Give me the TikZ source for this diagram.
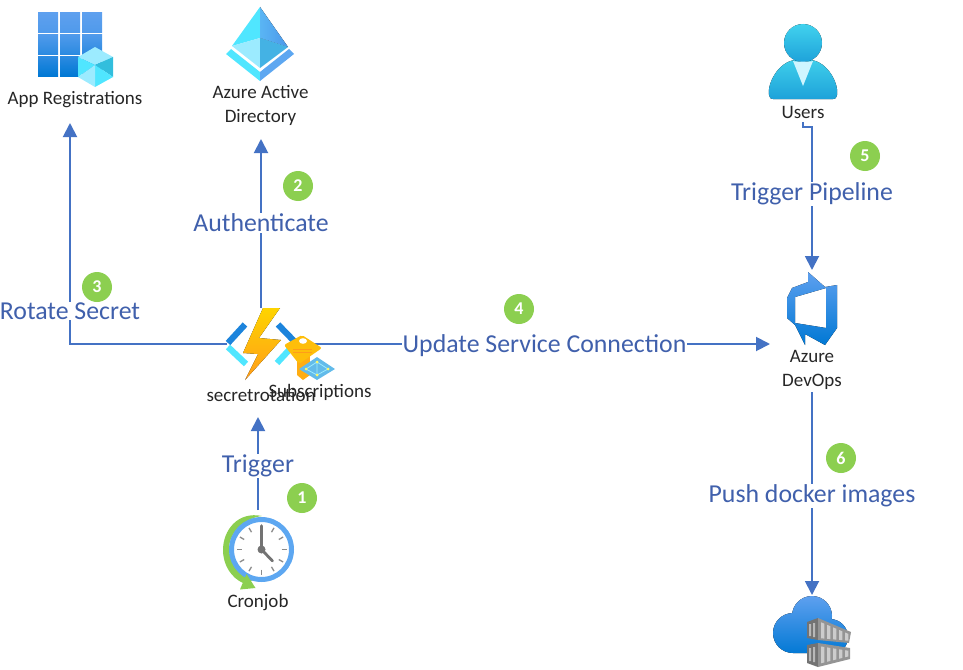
\documentclass[tikz,border=0pt]{standalone}
\usepackage{fontspec}
\setmainfont{Carlito}
\usetikzlibrary{arrows.meta}
\definecolor{lineblue}{HTML}{4472C4}
\definecolor{labelblue}{HTML}{4060AC}
\definecolor{badgegreen}{HTML}{8CCF50}
\definecolor{azlight}{HTML}{5EA0EF}
\definecolor{azdark}{HTML}{0078D4}
\definecolor{cyanA}{HTML}{50E6FF}
\definecolor{cyanB}{HTML}{9CEBFF}
\definecolor{cyanC}{HTML}{32BEDD}
\definecolor{boltA}{HTML}{FED400}
\definecolor{boltB}{HTML}{FF9C1A}
\tikzset{
  x=1pt,y=-1pt,
  iconbox/.style={inner sep=0pt,outer sep=0pt,minimum width=#1},
  conn/.style={draw=lineblue,line width=1.9pt,-{Triangle[length=14pt,width=14pt]}},
  connlabel/.style={fill=white,text=labelblue,font=\fontsize{25.8}{28}\selectfont,inner sep=0.5pt},
  iconlabel/.style={text=black!85,font=\fontsize{19}{24}\selectfont,inner sep=0pt,align=center},
  badge/.style={circle,fill=badgegreen,text=white,font=\fontsize{18}{18}\selectfont\bfseries,minimum size=30pt,inner sep=0pt},
  azfill/.style={top color=azlight,bottom color=azdark,draw=none},
}
\begin{document}
\begin{tikzpicture}
\useasboundingbox (0,0) rectangle (963,669);
% logical extents of the icons, used as connector ends
\node[iconbox=140pt,minimum height=123pt] (appr) at (70,61.5) {};
\node[iconbox=70pt,minimum height=139pt] (aad) at (261,69.5) {};
\node[iconbox=68pt,minimum height=72pt] (func) at (261,344) {};
\node[iconbox=68pt,minimum height=98pt] (users) at (803,73) {};
\node[iconbox=84pt,minimum height=122pt] (ado) at (812,331) {};
\node[iconbox=84pt,minimum height=74pt] (acr) at (812,632) {};
\node[iconbox=70pt,minimum height=102pt] (cron) at (258,561) {};
\node[iconbox=110pt,minimum height=48pt] (funcname) at (261,393) {};

% connectors
\draw[conn] (func.west) -| (appr.south);
\draw[conn] (func.north) -- (aad.south);
\draw[conn] (func.east) -- (func.east -| ado.west);
\draw[conn] (users.south) -- ++(0,5) -| (ado.north);
\draw[conn] (ado.south) -- (acr.north);
\draw[conn] (cron.north) -- (cron.north |- funcname.south);

% connector labels
\node[connlabel] (l3) at (70,311) {Rotate Secret};
\node[connlabel] (l2) at (261,223) {Authenticate};
\node[connlabel] (l4) at (544.5,346) {Update Service Connection};
\node[connlabel] (l5) at (812,194) {Trigger Pipeline};
\node[connlabel] (l1) at (258,466) {Trigger};
\node[connlabel] (l6) at (812,496) {Push docker images};

% badges
\node[badge] (b1) at (302,498) {1};
\node[badge] (b2) at (298,186) {2};
\node[badge] (b3) at (97,287) {3};
\node[badge] (b4) at (519,309) {4};
\node[badge] (b5) at (865,156) {5};
\node[badge] (b6) at (841,458) {6};

% App Registrations icon
\foreach \c in {0,1,2}{
  \fill[top color=azlight,bottom color=azlight!85!azdark] (38+\c*22,12.5) rectangle ++(20,20);
  \fill[top color=azlight!85!azdark,bottom color=azlight!45!azdark] (38+\c*22,35) rectangle ++(20,19.5);
  \fill[top color=azlight!45!azdark,bottom color=azdark] (38+\c*22,57) rectangle ++(20,19);
}
\fill[cyanB] (95,47) -- (113,57) -- (95,65) -- (78,57) -- cycle;
\fill[cyanA] (78,57) -- (95,65) -- (78,77) -- cycle;
\fill[cyanC] (113,57) -- (95,65) -- (113,77) -- cycle;
\fill[cyanA] (95,65) -- (113,77) -- (95,87) -- cycle;
\fill[cyanB] (95,65) -- (78,77) -- (95,87) -- cycle;
\node[iconlabel] (apprname) at (75,99.5) {App Registrations};

% Azure AD icon
\fill[cyanA] (260,7) -- (232,46) -- (260,38) -- cycle;
\fill[left color=cyanA!30!azlight,right color=azlight!80!azdark] (260,7) -- (288,47) -- (260,38) -- cycle;
\fill[cyanB] (232,46) -- (260,38) -- (260,68) -- cycle;
\fill[cyanC!60!azlight] (288,47) -- (260,38) -- (260,68) -- cycle;
\fill[cyanA] (226,54) -- (231,49) -- (260,72) -- (260,81) -- cycle;
\fill[azlight!90!cyanA] (294,54) -- (289,49) -- (260,72) -- (260,81) -- cycle;
\node[iconlabel] (aadname) at (260.5,105.5) {Azure Active\\Directory};

% Function icon
\draw[azdark!70!azlight,line width=6.2pt] (245,324.5) -- (228,343);
\draw[cyanA,line width=6.2pt] (228,347) -- (246,364);
\draw[azdark!70!azlight,line width=6.2pt] (278,324.5) -- (294,341);
\draw[cyanA,line width=6.2pt] (277,363) -- (290,349);
\fill[top color=boltA,bottom color=boltB] (263,308) -- (280,308) -- (259,338) -- (281,340) -- (245,380) -- (258,354) -- (243,353) -- cycle;

% Subscriptions icon
\fill[boltB!70!boltA] (297,352) rectangle (310,375);
\fill[boltB!70!boltA] (297,375) -- (303,380) -- (310,375) -- cycle;
\fill[boltA!60!boltB,rounded corners=2pt] (284,345) -- (302,335) -- (322,348) -- (299,364) -- cycle;
\fill[white] (303,341) ellipse (4pt and 2.8pt);
\draw[boltB,line width=0.9pt] (293,349) -- (312,349) (293,352) -- (312,352);
\fill[cyanC!50!azlight!85!white] (299,369) -- (317,357) -- (335,369) -- (317,380) -- cycle;
\draw[cyanB,line width=0.8pt] (317,362) -- (328,369) -- (317,375) -- (306,369) -- cycle (317,362) -- (317,375);
\foreach \p in {(317,362),(328,369),(317,375),(306,369)} \fill[yellow!60!white] \p circle (1.5pt);

\node[iconlabel] (funclabel) at (261,394.5) {secretrotation};
\node[iconlabel] (sublabel) at (320,392.5) {Subscriptions};

% Cronjob icon
\fill[badgegreen] (262,516) .. controls (238,511) and (223,530) .. (223,550) .. controls (223,566) and (232,578) .. (243,583) -- (254,580) .. controls (238,570) and (229,560) .. (229,549) .. controls (229,532) and (245,518) .. (262,516) -- cycle;
\filldraw[fill=white,draw=azlight!90!cyanA,line width=5pt] (261.5,549.5) circle (30pt);
\fill[badgegreen] (240,589.5) -- (255.5,588) -- (246.5,574) -- cycle;
\foreach \a in {0,30,...,330}
  \draw[black!45,line width=1.3pt] (261.5,549.5) ++(\a:20) -- ++(\a:5);
\draw[black!55,line width=3.6pt,line cap=round] (261.5,549.5) -- (261.5,526);
\draw[black!55,line width=2.8pt,line cap=round] (261.5,549.5) -- (272.5,561);
\fill[black!55] (261.5,549.5) circle (4pt);
\node[iconlabel] (cronname) at (258,602.5) {Cronjob};

% Users icon
\fill[top color=cyanC!60!cyanA,bottom color=cyanC!60!azdark] (769,95) .. controls (767,84) and (778,62) .. (795,60) -- (811,60) .. controls (828,62) and (839,84) .. (837,95) .. controls (837,98) and (835,99) .. (833,99) -- (773,99) .. controls (771,99) and (769,98) .. (769,95) -- cycle;
\fill[top color=cyanC!50!cyanA,bottom color=cyanC!60!azdark] (803,43) circle (19pt);
\fill[cyanB!50!white] (793,61) -- (803,86) -- (813,61) .. controls (810,62) and (796,62) .. (793,61) -- cycle;
\node[iconlabel] (usersname) at (803,112) {Users};

% Azure DevOps icon
\fill[azfill,even odd rule] (808,272) -- (825,287) -- (837,285) -- (837,328) -- (825,345) -- (805,334) -- (805,345) -- (795,325) -- (787,318) -- (787,298) -- (792,288) -- (808,282) -- cycle
  (795,297) -- (826,288) -- (826,328) -- (795,323) -- cycle;
\node[iconlabel] (adoname) at (812,370) {Azure\\DevOps};

% Container registry icon
\fill[top color=azlight,bottom color=azdark] (812,616) circle (20pt) (793,633) circle (20pt) (830,637) circle (18pt) (793,630) rectangle (830,653);
% upper container
\fill[black!55] (807,622) -- (818,618) -- (818,640) -- (807,638) -- cycle;
\fill[black!42] (818,618) -- (851,632) -- (849,643) -- (818,640) -- cycle;
\foreach \i in {0,1,2,3,4}{
  \pgfmathsetmacro{\xa}{821+\i*6}
  \pgfmathsetmacro{\xb}{\xa+3.4}
  \fill[black!20] (\xa,{621+(\xa-818)*0.424}) -- (\xb,{621+(\xb-818)*0.424}) -- (\xb,{638+(\xb-818)*0.09}) -- (\xa,{638+(\xa-818)*0.09}) -- cycle;
}
\fill[black!28] (809,624) rectangle ++(2,12) (813,623) rectangle ++(2,14);
% lower container
\fill[black!55] (807,645) -- (818,643) -- (818,667) -- (807,663) -- cycle;
\fill[black!42] (818,643) -- (850,648) -- (850,659) -- (818,667) -- cycle;
\foreach \i in {0,1,2,3,4}{
  \pgfmathsetmacro{\xa}{821+\i*6}
  \pgfmathsetmacro{\xb}{\xa+3.4}
  \fill[black!20] (\xa,{646+(\xa-818)*0.156}) -- (\xb,{646+(\xb-818)*0.156}) -- (\xb,{664-(\xb-818)*0.25}) -- (\xa,{664-(\xa-818)*0.25}) -- cycle;
}
\fill[black!28] (809,648) rectangle ++(2,13) (813,647) rectangle ++(2,15);
\end{tikzpicture}
\end{document}
